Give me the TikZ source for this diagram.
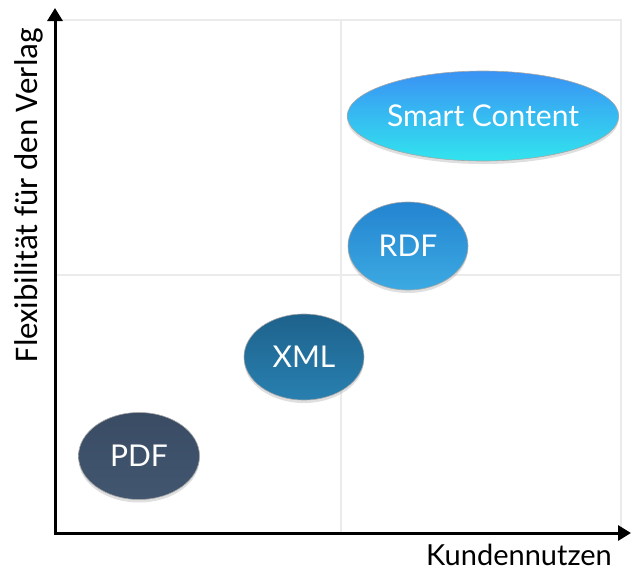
\documentclass[tikz,border=0pt]{standalone}
\usepackage{fontspec}
\setmainfont{Lato}
\newfontfamily\axisfont{Carlito}
\usetikzlibrary{shapes.geometric,arrows.meta,shadows}

\begin{document}
\begin{tikzpicture}[x=1pt,y=-1pt,
            axis/.style={line width=3pt,-{Triangle[width=15pt,length=13pt]}},
            grid line/.style={draw=black!8,line width=1.5pt},
            blob/.style={ellipse,draw=black!35,line width=0.6pt,inner sep=0pt,
                text=white,font=\fontsize{30}{34}\selectfont,
                drop shadow={shadow xshift=0pt,shadow yshift=-3pt,opacity=0.25}}]

        \useasboundingbox (0,0) rectangle (631,570);

        % Define frame points
        \coordinate (O) at (55,533);
        \coordinate (ytop) at (55,8);
        \coordinate (xend) at (631,533);
        \coordinate (tl) at (55,20);
        \coordinate (tr) at (621,20);
        \coordinate (br) at (621,533);
        \coordinate (midtop) at (341,20);
        \coordinate (midbot) at (341,533);
        \coordinate (midleft) at (55,275);
        \coordinate (midright) at (621,275);

        % Draw grid
        \draw[grid line] (tl) -- (tr) -- (br);
        \draw[grid line] (midtop) -- (midbot);
        \draw[grid line] (midleft) -- (midright);

        % Define vertices
        \node[blob,minimum width=262pt,minimum height=90pt,
            top color={rgb,255:red,58;green,146;blue,244},
            bottom color={rgb,255:red,50;green,228;blue,238}] (smart) at (483,116) {Smart Content};
        \node[blob,minimum width=120pt,minimum height=88pt,
            top color={rgb,255:red,36;green,132;blue,208},
            bottom color={rgb,255:red,60;green,170;blue,226}] (rdf) at (408,246) {RDF};
        \node[blob,minimum width=120pt,minimum height=86pt,
            top color={rgb,255:red,30;green,98;blue,140},
            bottom color={rgb,255:red,40;green,128;blue,176}] (xml) at (304,357) {XML};
        \node[blob,minimum width=121pt,minimum height=87pt,
            top color={rgb,255:red,58;green,76;blue,100},
            bottom color={rgb,255:red,66;green,86;blue,112}] (pdf) at (139,456) {PDF};

        % Draw axes
        \draw[axis] (O) -- (ytop);
        \draw[axis] ([xshift=-1.5pt]O) -- (xend);

        % Axis labels
        \node[font=\axisfont\fontsize{33}{36}\selectfont,rotate=90,anchor=base,inner sep=0pt] (ylab) at (37,195) {Flexibilität für den Verlag};
        \node[font=\fontsize{29}{33}\selectfont,anchor=base,inner sep=0pt] (xlab) at (519,565) {Kundennutzen};

\end{tikzpicture}
\end{document}
